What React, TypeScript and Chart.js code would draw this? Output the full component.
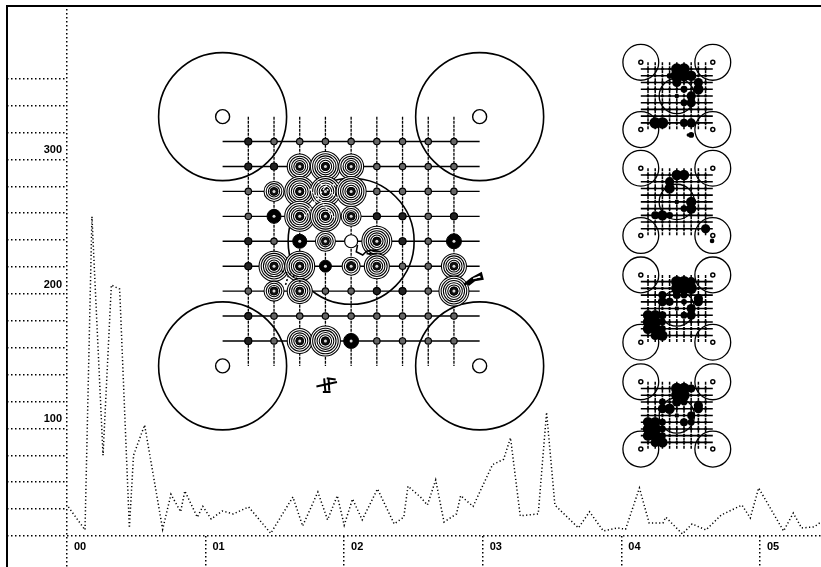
import React, { useEffect, useRef } from "react";
import { Chart, registerables } from "chart.js";

Chart.register(...registerables);

// Dotted series (axis units)
const seriesX = [0.01,0.13,0.18,0.26,0.32,0.38,0.45,0.48,0.56,0.69,0.75,0.82,0.85,0.94,0.98,1.04,1.12,1.2,1.31,1.47,1.63,1.7,1.81,1.88,1.95,2.0,2.06,2.13,2.24,2.36,2.43,2.46,2.55,2.6,2.66,2.72,2.81,2.84,2.93,3.07,3.15,3.2,3.27,3.4,3.46,3.52,3.69,3.77,3.87,3.97,4.03,4.13,4.2,4.3,4.32,4.44,4.51,4.61,4.72,4.87,4.93,4.99,5.17,5.24,5.3,5.39,5.44];
const seriesY = [41.6,24.5,257.5,80,206.6,203.6,26,80,102.5,25,51,38,53.5,34,42,32.6,38.6,36.4,41.6,22,49,27.4,52.7,32,50,28,47.5,32,55,29,34,57,49,43,61.6,30.4,36.4,50,42,73,77,93,35,36.4,112,43,26,38,23.7,26,25,55.7,29.7,29.7,34,21.5,29,24.5,35.6,43,33.4,55.7,23.7,37,26,26.7,30.4];
const labelledY = [100, 200, 300];
const baselineY = 20;

// Schematic, in grid cells [col, row, size]
const gridIdx = [0,1,2,3,4,5,6,7,8];
const corners = [[-1,-1],[9,-1],[-1,9],[9,9]];
const ringCells = [[2,1,12.5],[3,1,15],[4,1,12.5],[1,2,10],[2,2,15],[3,2,15],[4,2,15],[2,3,15],[3,3,15],[4,3,10],[3,4,10],[5,4,15],[1,5,15],[2,5,15],[4,5,9],[5,5,12.5],[8,5,12.5],[1,6,10],[2,6,12.5],[8,6,15],[2,8,12.5],[3,8,15]];
const blackCells = [[1,3,7],[2,4,7],[8,4,7.5],[3,5,6],[4,8,7.5]];
const openCells = [[4,4,6.5]];
const darkNodes = [[0,0],[0,1],[1,1],[5,3],[6,3],[8,3],[0,4],[6,4],[0,5],[5,6],[6,6],[0,7],[0,8]];
const glyphPlane = [[2.65,9.83],[3.45,9.65],null,[2.95,9.5],[3,10.05],null,[3.12,9.5],[3.15,10],null,[2.9,10.05],[3.2,10.05],null,[3.05,9.5],[3.4,9.55]];
const glyphSquiggle = [[4.25,4.15],[4.2,4.42],[4.45,4.55],[4.6,4.4],[4.85,4.35],[5.15,4.42],null,[4.6,4.5],[5,4.5]];
const glyphLeft = [[1.3,5.2],[1.6,5.3],[1.9,5.5],[2.1,5.7],null,[1.45,5.75],[1.55,5.4]];
const glyphRight = [[8.4,5.75],[8.7,5.5],[9.05,5.3],[9.1,5.5],[8.8,5.55],[8.55,5.75]];
const glyphRightInner = [[8.75,5.5],[9,5.42]];
const glyphWhite = [[2.2,3],[2.6,2.4],[3,1.8],[3.5,1.7],null,[2.4,1.9],[2.9,2.5],[3.4,3.1],null,[2.7,1.6],[3.5,2.3]];

// Miniatures: [centre col, centre row] on the main grid, then their dark blobs
const miniCentres = [[16.67,-1.83],[16.67,2.42],[16.67,6.7],[16.67,10.99]];
const miniBlobs1 = [[4,0,5],[5,0,5],[4,1,5.5],[5,1,5],[6,1,4.5],[4,2,4],[3,1,2.5],[7,3,4.5],[7,2,4],[6,4,4],[6,5,4],[5,5,3],[4,4,2],[5,3,3],[1,8,5],[2,8,5],[5,8,3.5],[6,8,4],[6,9.8,2.5],[5.6,9.8,1.5]];
const miniBlobs2 = [[4,0,4.5],[5,0,4.5],[3,1,4],[3,2,4.5],[6,4,4.5],[6,5,4.5],[5,5,3],[4,4,2],[1,6,3.5],[2,6,4.5],[3,6,3],[8,8,4],[8.9,9.8,2]];
const miniBlobs3 = [[4,0,5],[5,0,5],[6,0,4],[4,1,5],[5,1,5],[6,1,5],[4,2,3.5],[5,2,3],[2,2,3.5],[2,3,4],[3,3,3.5],[5,3,2.5],[7,2.5,4],[7,3,4],[6,4,4],[6,5,4],[5,5,3],[4,4,2],[0,5,4.5],[1,5,4.5],[2,5,3.5],[0,6,4.5],[1,6,5],[0,7,4.5],[1,7,5],[2,7,3],[2,6,3],[1,8,4],[2,8,4.5]];
const miniBlobs4 = [[4,0,5],[5,0,5],[6,0,3.5],[4,1,5],[5,1,5],[4,2,4],[5,2,3],[2,2,3],[2,3,4],[3,3,4.5],[7,2.5,4],[7,3,4],[6,4,3.5],[5,5,3.5],[6,5,3],[4,4,2],[0,5,4.5],[1,5,4.5],[2,5,3],[0,6,4.5],[1,6,5],[0,7,4.5],[1,7,5],[2,7,3],[2,6,3],[1,8,4],[2,8,4.5]];
const miniLists = [miniBlobs1, miniBlobs2, miniBlobs3, miniBlobs4];

function buildDiagram(push: (d: any) => void, cx: number, cy: number, kx: number, ky: number, main: boolean) {
  const P = (c: number, r: number) => ({ x: cx + (c - 4) * kx, y: cy + (r - 4) * ky });
  const k = main ? 1 : 0.28;
  const bub = (data: any[], bg: string, bw: number, border = "#000") =>
    push({ type: "bubble", xAxisID: "gx", yAxisID: "gy", data, backgroundColor: bg, borderColor: border, borderWidth: bw });
  const line = (data: any[], w: number, dash: number[] = [], color = "#000") =>
    push({ type: "line", xAxisID: "gx", yAxisID: "gy", data, borderColor: color, borderWidth: w, borderDash: dash, pointRadius: 0, tension: 0, spanGaps: false });
  const gapped = (pts: any[]) => pts.map((p) => (p ? P(p[0], p[1]) : { x: cx, y: null }));

  const hl: any[] = [];
  const vl: any[] = [];
  gridIdx.forEach((i) => {
    hl.push(P(-1, i), P(9, i), { x: cx, y: null });
    vl.push(P(i, -1), P(i, 9), { x: cx, y: null });
  });
  line(hl, main ? 1.4 : 1.6);
  line(vl, main ? 1.3 : 1.5, [3, 1]);

  const bw = main ? 1.6 : 1.3;
  bub([...corners.map(([c, r]) => ({ ...P(c, r), r: 64 * k }))], "transparent", bw);
  bub([{ ...P(4, 4), r: 63 * k }], "transparent", bw);
  bub(corners.map(([c, r]) => ({ ...P(c, r), r: main ? 7 : 2 })), "#fff", main ? 1.4 : 1.5);

  if (main) {
    const nodes: any[] = [];
    gridIdx.forEach((c) => gridIdx.forEach((r) => nodes.push({ ...P(c, r), r: 3.2 })));
    bub(nodes, "#666", 1.2);
    bub(darkNodes.map(([c, r]) => ({ ...P(c, r), r: 3.5 })), "#222", 1.2);
    const rings: any[] = [];
    ringCells.forEach(([c, r, s]) => {
      for (let q = s; q >= 4; q -= 2.2) rings.push({ ...P(c, r), r: q });
    });
    bub(rings, "#fff", 1.05);
    bub(ringCells.map(([c, r]) => ({ ...P(c, r), r: 4 })), "#111", 1);
    bub(blackCells.map(([c, r, s]) => ({ ...P(c, r), r: s })), "#000", 1);
    bub(openCells.map(([c, r, s]) => ({ ...P(c, r), r: s })), "#fff", 1.2);
    bub([...ringCells, ...blackCells].map(([c, r]) => ({ ...P(c, r), r: 1.5 })), "#ddd", 0, "#ddd");
    line(gapped(glyphPlane), 2);
    line(gapped(glyphSquiggle), 1.5);
    line(gapped(glyphLeft), 1.6, [2, 2]);
    line(gapped(glyphRight), 2.6);
    line(gapped(glyphRightInner), 1.4, [], "#fff");
    line(gapped(glyphWhite), 1.5, [2, 2], "#fff");
  } else {
    const nodes: any[] = [];
    gridIdx.forEach((c) => gridIdx.forEach((r) => nodes.push({ ...P(c, r), r: 1.4 })));
    bub(nodes, "#000", 0);
  }
}

export default function App() {
  const ref = useRef<HTMLCanvasElement>(null);
  useEffect(() => {
    document.body.style.margin = "0";
    const raw: any[] = [];
    raw.push({
      type: "line", xAxisID: "x", yAxisID: "y",
      data: seriesX.map((x, i) => ({ x, y: seriesY[i] })),
      borderColor: "#000", borderWidth: 1.5, borderDash: [1.2, 2.4], pointRadius: 0, tension: 0,
    });
    buildDiagram((d) => raw.push(d), 4, 4, 1, 1, true);
    miniCentres.forEach(([c, r], i) => {
      buildDiagram((d) => raw.push(d), c, r, 0.28, 0.27, false);
      raw.push({
        type: "bubble", xAxisID: "gx", yAxisID: "gy",
        data: miniLists[i].map(([col, row, s]) => ({ x: c + (col - 4) * 0.28, y: r + (row - 4) * 0.27, r: s * 1.15 })),
        backgroundColor: "#000", borderColor: "#000", borderWidth: 0,
      });
    });
    const datasets = raw.map((d, i) => ({ ...d, order: raw.length - i }));
    const fixPad = (s: any) => {
      s.paddingTop = 0; s.paddingBottom = 0; s.paddingLeft = 0; s.paddingRight = 0;
    };
    const dotted = [1.5, 2.5];
    const chart = new Chart(ref.current!, {
      type: "line",
      data: { datasets },
      options: {
        animation: false,
        responsive: false,
        parsing: undefined as any,
        layout: { autoPadding: false, padding: { left: 7, top: 5, right: 0, bottom: 0 } },
        plugins: { legend: { display: false }, tooltip: { enabled: false } },
        events: [],
        scales: {
          x: {
            type: "linear", min: 0, max: 5.44, position: { y: baselineY } as any,
            grid: {
              drawOnChartArea: true, drawTicks: true, tickLength: 31, tickBorderDash: dotted, lineWidth: 1.5,
              tickColor: (c: any) => (c.tick && c.tick.value === 0 ? "transparent" : "#000"),
              color: (c: any) => (c.tick && c.tick.value === 0 ? "#000" : "transparent"),
            },
            border: { display: false, dash: dotted },
            ticks: {
              stepSize: 1, includeBounds: false, autoSkip: false, maxRotation: 0, padding: -27, labelOffset: 13, color: "#000",
              font: { family: "'Liberation Sans'", size: 11, weight: "bold" },
              callback: (v: any) => String(v).padStart(2, "0"),
            },
            afterFit: fixPad,
          } as any,
          y: {
            type: "linear", min: -3.05, max: 414.8, position: "left",
            grid: {
              drawOnChartArea: true, drawTicks: true, tickLength: 60, tickColor: "#000", tickBorderDash: dotted, lineWidth: 1.5,
              color: (c: any) => (c.tick && c.tick.value === baselineY ? "#000" : "transparent"),
            },
            border: { display: false, dash: dotted },
            ticks: {
              stepSize: 20, includeBounds: false, autoSkip: false, padding: -55, labelOffset: -9, color: "#000",
              font: { family: "'Liberation Sans'", size: 11, weight: "bold" },
              callback: (v: any) => (labelledY.includes(v) ? String(v) : ""),
            },
            afterBuildTicks: (s: any) => { s.ticks = s.ticks.filter((t: any) => t.value >= 20 && t.value <= 360); },
            afterFit: (s: any) => { s.width = 60; fixPad(s); },
          } as any,
          gx: { type: "linear", display: false, min: -7.054, max: 22.28, position: "bottom" },
          gy: { type: "linear", display: false, min: -5.48, max: 17.07, reverse: true, position: "left" },
        },
      },
    });
    return () => chart.destroy();
  }, []);
  return (
    <div style={{ position: "relative", width: 821, height: 567, background: "#fff", overflow: "hidden" }}>
      <div style={{ position: "absolute", left: 6, top: 5, right: 0, bottom: 0, borderLeft: "2px solid #000", borderTop: "2px solid #000" }} />
      <canvas ref={ref} width={821} height={567} style={{ position: "absolute", left: 0, top: 0, width: 821, height: 567 }} />
    </div>
  );
}
